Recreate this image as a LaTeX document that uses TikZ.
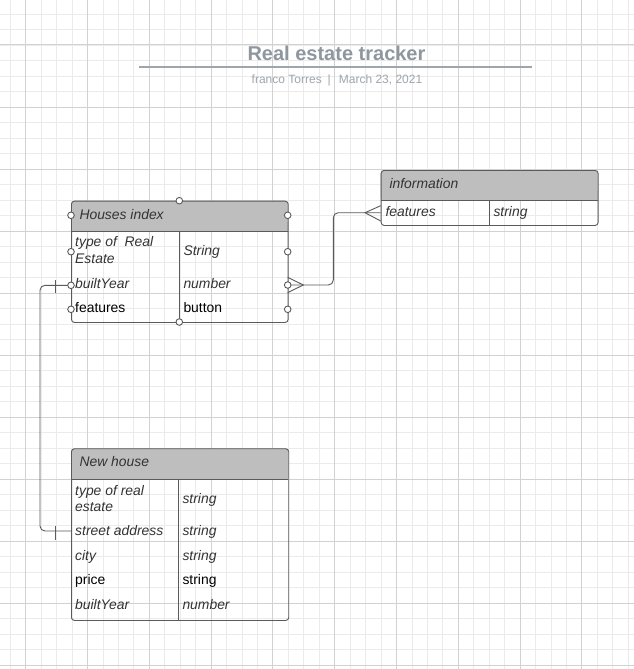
\documentclass[tikz,border=0pt]{standalone}
\usepackage{fontspec}
\setmainfont{Liberation Sans}
\definecolor{gridminor}{HTML}{EBEBEB}
\definecolor{gridmajor}{HTML}{D2D2D2}
\definecolor{tblborder}{HTML}{5A5A5A}
\definecolor{hdrfill}{HTML}{BEBEBE}
\definecolor{titlegray}{HTML}{8E979F}
\definecolor{subgray}{HTML}{9EA6AD}
\definecolor{txtdark}{HTML}{333333}
\begin{document}
\begin{tikzpicture}[x=1pt,y=-1pt,
  minor/.style={draw=gridminor,line width=0.9pt},
  major/.style={draw=gridmajor,line width=1pt},
  tbl/.style={draw=tblborder,line width=0.9pt,rounded corners=3pt,inner sep=0pt,anchor=north west},
  sep/.style={draw=tblborder,line width=0.9pt},
  port/.style={circle,draw=tblborder,fill=white,line width=0.9pt,inner sep=0pt,minimum size=6.6pt},
  conn/.style={draw=tblborder,line width=0.9pt},
  it/.style={anchor=base west,inner sep=0pt,font=\fontsize{13.9}{16.6}\selectfont\itshape,text=txtdark,align=left},
  rm/.style={anchor=base west,inner sep=0pt,font=\fontsize{13.9}{16.6}\selectfont,text=black,align=left}]
\useasboundingbox (0,0) rectangle (634,669);
\fill[white] (0,0) rectangle (634,669);
% grid
\foreach \k in {-1,...,39}{\pgfmathsetmacro\xx{25.7+15.45*\k}\draw[minor] (\xx,0) -- (\xx,669);}
\foreach \k in {-3,...,40}{\pgfmathsetmacro\yy{45+15.5*\k}\draw[minor] (0,\yy) -- (634,\yy);}
\foreach \k in {0,...,9}{\pgfmathsetmacro\xx{25.7+61.8*\k}\draw[major] (\xx,0) -- (\xx,669);}
\foreach \k in {0,...,10}{\pgfmathsetmacro\yy{45+62*\k}\draw[major] (0,\yy) -- (634,\yy);}
% title
\node[anchor=base,inner sep=0pt,font=\fontsize{20}{24}\selectfont\bfseries,text=titlegray] (title) at (336.5,60) {Real estate tracker};
\draw[draw=subgray,line width=1.6pt] (139,67.3) -- (532,67.3);
\node[anchor=base,inner sep=0pt,font=\fontsize{12}{14}\selectfont,text=subgray] (sub) at (337,83.5) {franco Torres\hspace{6pt}|\hspace{8pt}March 23, 2021};
% ---------- Houses index
\fill[hdrfill,rounded corners=3pt] (71,200.7) rectangle (287.7,231.7);
\fill[hdrfill] (71,222) rectangle (287.7,231.7);
\node[tbl,minimum width=216.7pt,minimum height=121.3pt] (hi) at (71,200.7) {};
\draw[sep] (71,231.7) -- (287.7,231.7);
\draw[sep] (179.3,231.7) -- (179.3,322);
\node[it] (hiH) at (79.3,219.5) {Houses index};
\node[it] (hi1a) at (75,263.3) {type of\ \ Real\\Estate};
\node[it] (hi1b) at (183.3,255) {String};
\node[it] (hi2a) at (75,288.3) {builtYear};
\node[it] (hi2b) at (183.3,288.3) {number};
\node[rm] (hi3a) at (75,312.7) {features};
\node[rm] (hi3b) at (183.3,312.7) {button};
% ---------- information
\fill[hdrfill,rounded corners=3pt] (380.7,170) rectangle (597.7,200.7);
\fill[hdrfill] (380.7,190) rectangle (597.7,200.7);
\node[tbl,minimum width=217pt,minimum height=55pt] (inf) at (380.7,170) {};
\draw[sep] (380.7,200.7) -- (597.7,200.7);
\draw[sep] (489.3,200.7) -- (489.3,225);
\node[it] (infH) at (389.3,188.3) {information};
\node[it] (inf1a) at (385.3,216.5) {features};
\node[it] (inf1b) at (493.3,216.5) {string};
% ---------- New house
\fill[hdrfill,rounded corners=3pt] (71,448.3) rectangle (288.3,479.3);
\fill[hdrfill] (71,470) rectangle (288.3,479.3);
\node[tbl,minimum width=217.3pt,minimum height=171.7pt] (nh) at (71,448.3) {};
\draw[sep] (71,479.3) -- (288.3,479.3);
\draw[sep] (178.3,479.3) -- (178.3,620);
\node[it] (nhH) at (79.3,466.7) {New house};
\node[it] (nh1a) at (75,511.7) {type of real\\estate};
\node[it] (nh1b) at (182.3,503.3) {string};
\node[it] (nh2a) at (75,535.7) {street address};
\node[it] (nh2b) at (182.3,535.7) {string};
\node[it] (nh3a) at (75,560) {city};
\node[it] (nh3b) at (182.3,560) {string};
\node[rm] (nh4a) at (75,584.5) {price};
\node[rm] (nh4b) at (182.3,584.5) {string};
\node[it] (nh5a) at (75,609.3) {builtYear};
\node[it] (nh5b) at (182.3,609.3) {number};
% connection coordinates
\coordinate (hiR2) at (287.7,285);
\coordinate (hiL2) at (71,285.3);
\coordinate (infL) at (380.7,212.7);
\coordinate (nhL) at (71,531);
% connector Houses index -> information (many to many)
\draw[conn,rounded corners=5pt] (hiR2) -- ++(45.6,0) |- (infL);
\draw[conn] (287.7,277.3) -- (303.3,285) -- (287.7,292.7);
\draw[conn] (380.7,205.7) -- (365,212.7) -- (380.7,221);
% connector Houses index -> New house (one to one)
\draw[conn,rounded corners=5pt] (hiL2) -- (40,285.3) |- (nhL);
\draw[conn] (55.7,280) -- (55.7,292.7);
\draw[conn] (55.7,526) -- (55.7,540);
% ports
\node[port] (pT) at (179.3,200.7) {};
\node[port] (pB) at (179.3,322) {};
\node[port] (pL0) at (71,215.3) {};
\node[port] (pR0) at (287.7,215.3) {};
\node[port] (pL1) at (71,251.7) {};
\node[port] (pR1) at (287.7,251.7) {};
\node[port] (pL2) at (hiL2) {};
\node[port] (pR2) at (hiR2) {};
\node[port] (pL3) at (71,309.3) {};
\node[port] (pR3) at (287.7,309.3) {};
\end{tikzpicture}
\end{document}
